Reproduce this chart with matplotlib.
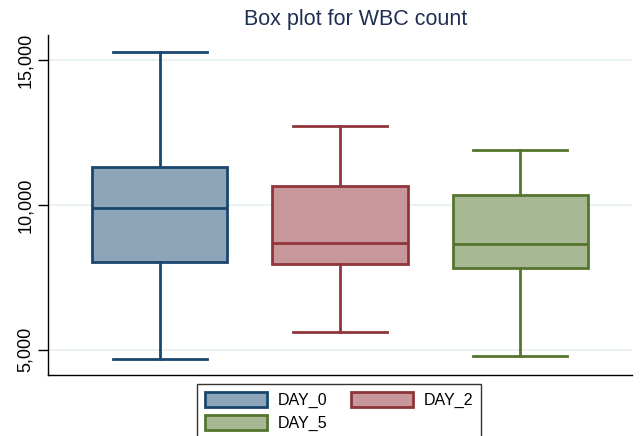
import matplotlib
matplotlib.use("Agg")
import matplotlib.pyplot as plt
from matplotlib.patches import Patch

plt.rcParams["font.family"] = ["Liberation Sans", "DejaVu Sans"]

# ── summary statistics per day ────────────────────────────────────────────────
days      = ["DAY_0", "DAY_2", "DAY_5"]
whisk_lo  = [4680, 5600, 4790]
q1        = [8025, 7970, 7830]
median    = [9890, 8700, 8640]
q3        = [11300, 10650, 10360]
whisk_hi  = [15300, 12730, 11900]

face_cols = ["#8ea4b8", "#c7979b", "#a9b894"]
edge_cols = ["#1a476f", "#90353b", "#55752f"]

yticks = [5000, 10000, 15000]

fig = plt.figure(figsize=(6.44, 4.36), dpi=100)
ax = fig.add_axes([48 / 644, 1 - 375 / 436, 584 / 644, 340 / 436])

for i, day in enumerate(days):
    stats = [{
        "label": day, "whislo": whisk_lo[i], "q1": q1[i], "med": median[i],
        "q3": q3[i], "whishi": whisk_hi[i], "fliers": [],
    }]
    ec = edge_cols[i]
    ax.bxp(stats, positions=[i + 1], widths=0.75, patch_artist=True,
           showfliers=False,
           boxprops=dict(facecolor=face_cols[i], edgecolor=ec, linewidth=2),
           medianprops=dict(color=ec, linewidth=2),
           whiskerprops=dict(color=ec, linewidth=2),
           capprops=dict(color=ec, linewidth=2),
           capwidths=0.52, zorder=3)

ax.set_xlim(0.38, 3.62)
ax.set_ylim(4120, 15880)
ax.set_xticks([])
ax.set_yticks(yticks)
ax.set_yticklabels([f"{v:,}" for v in yticks], rotation=90, va="center",
                   fontsize=13)
ax.tick_params(axis="y", length=7, width=1, pad=3)
ax.grid(axis="y", color="#eaf2f3", linewidth=1.5, zorder=0)
ax.set_axisbelow(True)
for side in ["top", "right"]:
    ax.spines[side].set_visible(False)
for side in ["left", "bottom"]:
    ax.spines[side].set_linewidth(1)

fig.text(356 / 644, 1 - 19 / 436, "Box plot for WBC count", ha="center",
         va="center", fontsize=15.5, color="#1f2f52")

# legend fills column-wise, so order handles to read row-wise
handles = [Patch(facecolor=face_cols[i], edgecolor=edge_cols[i], linewidth=2,
                 label=days[i]) for i in (0, 2, 1)]
leg = fig.legend(handles=handles, ncol=2, loc="upper left",
                 bbox_to_anchor=(197 / 644, 1 - 384 / 436), borderaxespad=0,
                 fontsize=11.5, frameon=True, fancybox=False,
                 handlelength=3.9, handleheight=1.05, handletextpad=0.64,
                 columnspacing=1.5, labelspacing=0.45, borderpad=0.5)
leg.get_frame().set_edgecolor("black")
leg.get_frame().set_linewidth(1)

fig.savefig("out.png", dpi=100)
